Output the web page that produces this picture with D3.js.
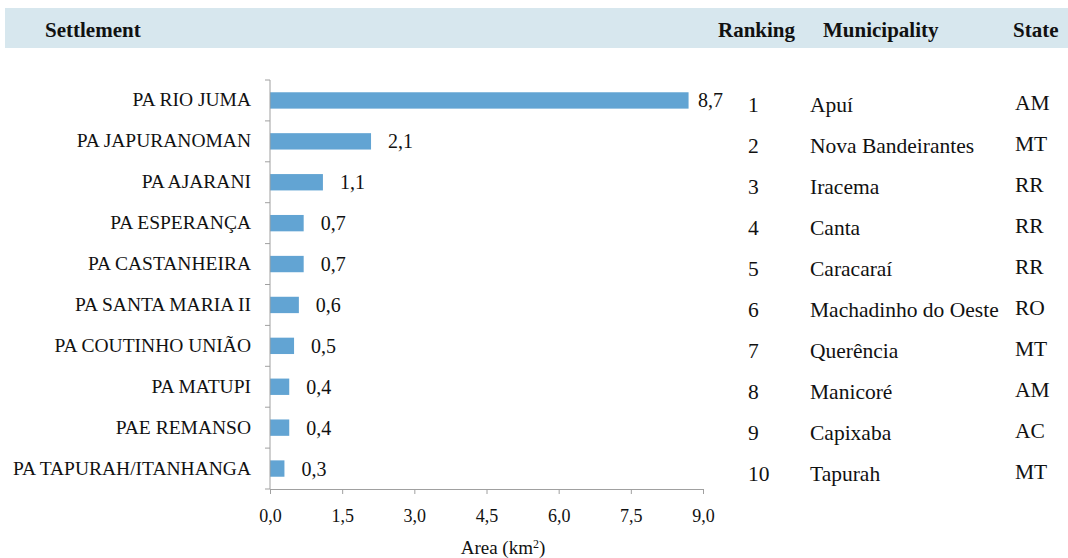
<!DOCTYPE html>
<html>
<head>
<meta charset="utf-8">
<script src="https://cdn.jsdelivr.net/npm/d3@7"></script>
<style>
  body { margin: 0; background: #fff; }
  text { font-family: "Liberation Serif", "Times New Roman", serif; fill: #111; }
</style>
</head>
<body>
<div id="chart"></div>
<script>
// data
const settlements = ["PA RIO JUMA", "PA JAPURANOMAN", "PA AJARANI", "PA ESPERANÇA", "PA CASTANHEIRA",
    "PA SANTA MARIA II", "PA COUTINHO UNIÃO", "PA MATUPI", "PAE REMANSO", "PA TAPURAH/ITANHANGA"];
const areas = [8.7, 2.1, 1.1, 0.7, 0.7, 0.6, 0.5, 0.4, 0.4, 0.3];
const rankings = [1, 2, 3, 4, 5, 6, 7, 8, 9, 10];
const municipalities = ["Apuí", "Nova Bandeirantes", "Iracema", "Canta", "Caracaraí",
    "Machadinho do Oeste", "Querência", "Manicoré", "Capixaba", "Tapurah"];
const states = ["AM", "MT", "RR", "RR", "RR", "RO", "MT", "AM", "AC", "MT"];
const xTicks = [0, 1.5, 3.0, 4.5, 6.0, 7.5, 9.0];

const W = 1068, H = 558;
const svg = d3.select("#chart").append("svg")
    .attr("width", W)
    .attr("height", H);

// header band
svg.append("rect")
    .attr("x", 5).attr("y", 8)
    .attr("width", W - 5).attr("height", 40)
    .attr("fill", "#d7e7ee");

const headers = [
    {t: "Settlement", x: 45},
    {t: "Ranking", x: 718},
    {t: "Municipality", x: 823},
    {t: "State", x: 1013}
];
svg.selectAll(".hdr").data(headers).enter()
    .append("text")
    .attr("class", "hdr")
    .attr("x", d => d.x)
    .attr("y", 37)
    .style("font-size", "21px")
    .style("font-weight", "bold")
    .text(d => d.t);

// scales
const x = d3.scaleLinear().domain([0, 9]).range([270, 703]);
const y = d3.scaleBand().domain(settlements).range([80, 489]).paddingInner(0.6).paddingOuter(0.3);
const band = d3.scaleBand().domain(settlements).range([80, 489]);
const mid = d => band(d) + band.bandwidth() / 2;

// bars
svg.selectAll(".bar").data(settlements).enter()
    .append("rect")
    .attr("class", "bar")
    .attr("x", x(0))
    .attr("y", d => y(d))
    .attr("width", (d, i) => x(areas[i]) - x(0))
    .attr("height", y.bandwidth())
    .attr("fill", "#62a4d3");

// value labels
svg.selectAll(".val").data(settlements).enter()
    .append("text")
    .attr("class", "val")
    .attr("x", (d, i) => Math.min(x(areas[i]) + 17, 698))
    .attr("y", d => mid(d) + 7)
    .style("font-size", "20px")
    .text((d, i) => areas[i].toFixed(1).replace(".", ","));

// y axis
const yAxis = svg.append("g")
    .attr("transform", `translate(${x(0)},0)`);
yAxis.append("line")
    .attr("x1", 0).attr("x2", 0)
    .attr("y1", 80).attr("y2", 489)
    .attr("stroke", "#a0a0a0");
const bounds = settlements.map(d => band(d)).concat([489]);
yAxis.selectAll(".ytick").data(bounds).enter()
    .append("line")
    .attr("x1", -5).attr("x2", 0)
    .attr("y1", d => d).attr("y2", d => d)
    .attr("stroke", "#a0a0a0");
yAxis.selectAll(".ylab").data(settlements).enter()
    .append("text")
    .attr("x", -19)
    .attr("y", d => mid(d) + 6)
    .attr("text-anchor", "end")
    .style("font-size", "19.5px")
    .text(d => d);

// x axis
const xAxis = svg.append("g")
    .attr("transform", "translate(0,489)")
    .call(d3.axisBottom(x).tickValues(xTicks).tickSize(5).tickPadding(15)
        .tickFormat(d => d.toFixed(1).replace(".", ",")));
xAxis.select(".domain").attr("stroke", "#a0a0a0");
xAxis.selectAll(".tick line").attr("stroke", "#a0a0a0");
xAxis.selectAll(".tick text")
    .style("font-family", "'Liberation Serif', serif")
    .style("font-size", "18px")
    .attr("fill", "#111");

const xTitle = svg.append("text")
    .attr("x", 503)
    .attr("y", 554)
    .attr("text-anchor", "middle")
    .style("font-size", "19px");
xTitle.append("tspan").text("Area (km");
xTitle.append("tspan").attr("dy", -6).style("font-size", "12px").text("2");
xTitle.append("tspan").attr("dy", 6).text(")");

// table columns
svg.selectAll(".rank").data(settlements).enter()
    .append("text")
    .attr("x", 748)
    .attr("y", d => mid(d) + 12)
    .style("font-size", "21.5px")
    .text((d, i) => rankings[i]);
svg.selectAll(".muni").data(settlements).enter()
    .append("text")
    .attr("x", 810)
    .attr("y", d => mid(d) + 12)
    .style("font-size", "21.5px")
    .text((d, i) => municipalities[i]);
svg.selectAll(".state").data(settlements).enter()
    .append("text")
    .attr("x", 1015)
    .attr("y", d => mid(d) + 10)
    .style("font-size", "21.5px")
    .text((d, i) => states[i]);
</script>
</body>
</html>
